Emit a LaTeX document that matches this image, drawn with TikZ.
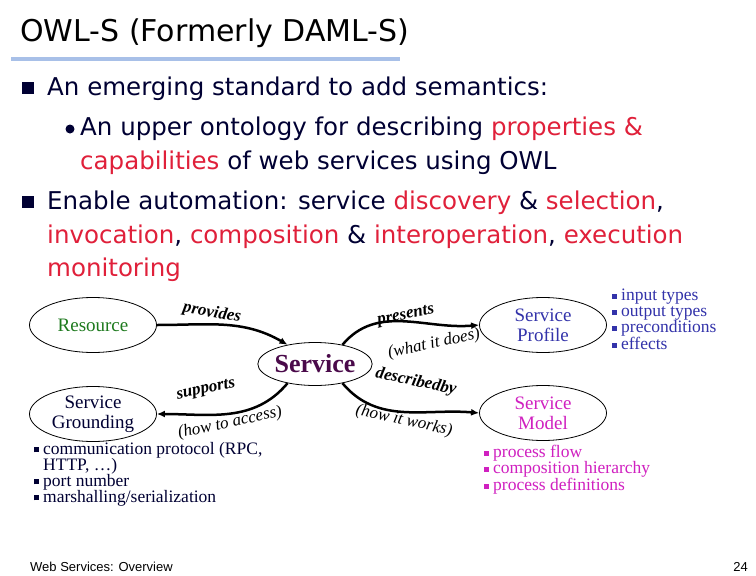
\documentclass[tikz,border=0pt]{standalone}
\usepackage{fontspec}
\setmainfont{Liberation Serif}
\newfontfamily\tah{DejaVu Sans}
\newfontfamily\ari{Liberation Sans}
\usetikzlibrary{arrows.meta,shapes.geometric}
\definecolor{navy}{HTML}{000033}
\definecolor{red1}{HTML}{E0203A}
\definecolor{rule}{HTML}{A8C0E8}
\definecolor{grn}{HTML}{1E7A1E}
\definecolor{blu}{HTML}{3333AA}
\definecolor{mag}{HTML}{D020C0}
\definecolor{plum}{HTML}{4A0A4A}
\newcommand{\sq}{\rule[2pt]{5pt}{5pt}\hspace{4pt}}
\tikzset{
 ell/.style={draw,ellipse,line width=0.8pt,minimum width=127pt,minimum height=55pt,inner sep=0pt,align=center,font=\fontsize{19}{20}\selectfont},
 arr/.style={-{Latex[length=8pt,width=7pt]},line width=2.5pt},
 lab/.style={font=\fontsize{17}{17}\selectfont\itshape,inner sep=0pt},
 blab/.style={font=\fontsize{17}{17}\selectfont\itshape\bfseries,inner sep=0pt},
 body/.style={anchor=west,inner sep=0pt,text=navy,font=\tah\fontsize{24.5}{24.5}\selectfont},
 sm/.style={anchor=north west,inner sep=0pt,align=left,font=\fontsize{17.5}{16}\selectfont}
}
\begin{document}
\begin{tikzpicture}[x=1pt,y=-1pt]
\useasboundingbox[fill=white] (0,0) rectangle (756,576);
\node[anchor=west,inner sep=0pt,font=\tah\fontsize{30}{30}\selectfont] (title) at (20,33) {OWL-S (Formerly DAML-S)};
\fill[rule] (11,57) rectangle (400,61);
\fill[navy] (22,82) rectangle (34,94);
\node[body] (l1) at (47,89) {An emerging standard to add semantics:};
\fill[navy] (70,129) circle (4.5);
\node[body] (l2) at (80,129) {An upper ontology for describing \textcolor{red1}{properties \&}};
\node[body] (l3) at (80,163) {\textcolor{red1}{capabilities} of web services using OWL};
\fill[navy] (22,196) rectangle (34,208);
\node[body] (l4) at (47,203) {Enable automation: service \textcolor{red1}{discovery} \& \textcolor{red1}{selection},};
\node[body] (l5) at (47,237) {\textcolor{red1}{invocation}, \textcolor{red1}{composition} \& \textcolor{red1}{interoperation}, \textcolor{red1}{execution}};
\node[body] (l6) at (47,270) {\textcolor{red1}{monitoring}};

\node[ell,text=grn] (res) at (93,325) {Resource};
\node[ell,text=navy] (grd) at (93,414) {Service\\Grounding};
\node[ell,text=plum,minimum width=107pt,minimum height=43pt,font=\fontsize{26}{26}\selectfont\bfseries] (svc) at (315,364) {Service};
\node[ell,text=blu] (pro) at (543,325) {Service\\Profile};
\node[ell,text=mag] (mod) at (543,413) {Service\\Model};

\draw[arr] (res.east) to[out=0,in=150] (svc.145);
\draw[arr] (svc.35) to[out=50,in=185] (pro.west);
\draw[arr] (svc.215) to[out=-130,in=0] (grd.east);
\draw[arr] (svc.325) to[out=-50,in=175] (mod.west);

\node[blab,rotate=-10] (lp) at (212,313) {provides};
\node[blab,rotate=12] (lpr) at (406,316) {presents};
\node[lab,rotate=12] (lw) at (434,344) {(what it does)};
\node[blab,rotate=12] (ls) at (206,390) {supports};
\node[lab,rotate=12] (lh) at (230,423) {(how to access)};
\node[blab,rotate=-12] (ld) at (416,382) {describedby};
\node[lab,rotate=-12] (lhw) at (404,421) {(how it works)};

\node[sm,text=blu] (pb) at (612,289) {\sq input types\\\sq output types\\\sq preconditions\\\sq effects};
\node[sm,text=navy] (gb) at (34,442) {\sq communication protocol (RPC,\\\hspace*{9pt}HTTP, \dots)\\\sq port number\\\sq marshalling/serialization};
\node[sm,text=mag] (mb) at (484,445) {\sq process flow\\\sq composition hierarchy\\\sq process definitions};

\node[anchor=west,inner sep=0pt,font=\ari\fontsize{13}{13}\selectfont] (ft) at (30,567) {Web Services: Overview};
\node[anchor=east,inner sep=0pt,font=\ari\fontsize{13}{13}\selectfont] (pg) at (748,567) {24};
\end{tikzpicture}
\end{document}
